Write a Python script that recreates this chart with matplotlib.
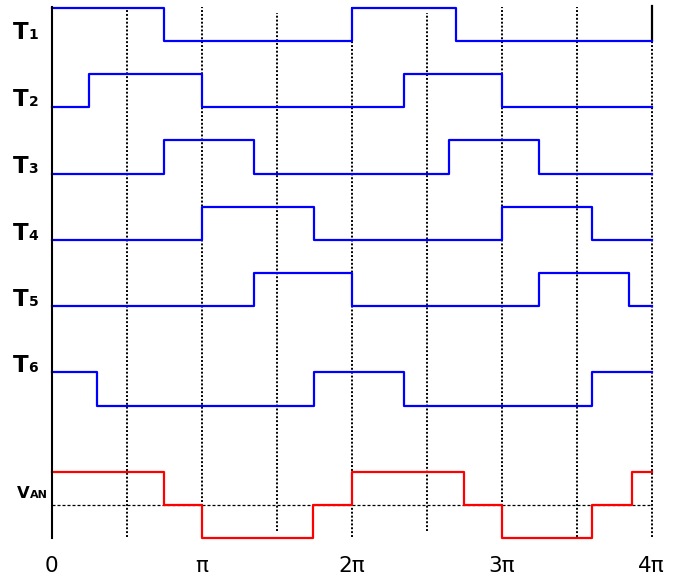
import numpy as np
import matplotlib.pyplot as plt
from matplotlib.transforms import offset_copy

# switching instants (in multiples of pi) and the state held after each one
t1_edges = [0, 0.747, 2.0, 2.696, 4.0]
t1_states = [1, 0, 1, 0]
t2_edges = [0, 0.249, 1.0, 2.349, 3.0, 4.0]
t2_states = [0, 1, 0, 1, 0]
t3_edges = [0, 0.747, 1.351, 2.649, 3.251, 4.0]
t3_states = [0, 1, 0, 1, 0]
t4_edges = [0, 1.0, 1.749, 3.0, 3.604, 4.0]
t4_states = [0, 1, 0, 1, 0]
t5_edges = [0, 1.351, 2.0, 3.251, 3.849, 4.0]
t5_states = [0, 1, 0, 1, 0]
t6_edges = [0, 0.304, 1.749, 2.349, 3.604, 4.0]
t6_states = [1, 0, 1, 0, 1]

van_edges = [0, 0.747, 1.0, 1.744, 2.0, 2.751, 3.0, 3.6, 3.871, 4.0]
van_states = [1, 0, -1, 0, 1, 0, -1, 0, 1]

row_names = ["1", "2", "3", "4", "5", "6"]
tick_vals = [0, 1, 2, 3, 4]
tick_labels = ["0", "π", "2π", "3π", "4π"]

signals = [
    (t1_edges, t1_states),
    (t2_edges, t2_states),
    (t3_edges, t3_states),
    (t4_edges, t4_states),
    (t5_edges, t5_states),
    (t6_edges, t6_states),
]
row_base = [13.93, 11.95, 9.95, 7.95, 5.97, 2.98]
label_y = [14.0, 11.97, 9.97, 7.97, 5.97, 3.98]


def step_xy(edges, states):
    xs = np.repeat(np.asarray(edges, dtype=float), 2)[1:-1] * np.pi
    ys = np.repeat(np.asarray(states, dtype=float), 2)
    return xs, ys


fig = plt.figure(figsize=(6.79, 5.77), dpi=100)
ax = fig.add_axes([0, 0, 1, 1])
ax.set_xlim(-0.3447 * np.pi, 4.182 * np.pi)
ax.set_ylim(-2.162, 15.165)
ax.axis("off")

# dotted guides every half period
for k in range(1, 9):
    x = k * 0.5 * np.pi
    if k in (3, 5):
        y0, y1 = -0.78, 14.77
    else:
        y0, y1 = -0.97, 14.95
    ax.plot([x, x], [y0, y1], color="black", lw=1.4,
            linestyle=(0, (1, 1.0)), zorder=1)
ax.plot([4 * np.pi, 4 * np.pi], [13.95, 14.97], color="black", lw=1.6, zorder=1)

# time axis line on the left
ax.plot([0, 0], [-0.99, 14.95], color="black", lw=1.5, zorder=3)

# zero reference for the phase voltage
ax.plot([0, 4 * np.pi], [0, 0], color="black", lw=0.9,
        linestyle=(0, (2.4, 1.6)), zorder=1)

for (edges, states), base in zip(signals, row_base):
    xs, ys = step_xy(edges, states)
    ax.plot(xs, ys + base, color="#0000ff", lw=1.6, zorder=2)

xs, ys = step_xy(van_edges, van_states)
ax.plot(xs, ys, color="#ff0000", lw=1.6, zorder=2)

# row labels: big T with a smaller digit on the same baseline
for name, y in zip(row_names, label_y):
    ax.text(-0.2615 * np.pi, y, "T", fontsize=16.5, fontweight="bold",
            ha="left", va="baseline")
    tr = offset_copy(ax.transData, fig=fig, x=11.5, y=0, units="points")
    ax.text(-0.2615 * np.pi, y, name, fontsize=10, fontweight="bold",
            ha="left", va="baseline", transform=tr)

ax.text(-0.235 * np.pi, 0.2, "V", fontsize=11.8, fontweight="bold",
        ha="left", va="baseline")
tr = offset_copy(ax.transData, fig=fig, x=9.6, y=0, units="points")
ax.text(-0.235 * np.pi, 0.2, "AN", fontsize=8, fontweight="bold",
        ha="left", va="baseline", transform=tr)

for v, lab in zip(tick_vals, tick_labels):
    ax.text(v * np.pi, -2.0, lab, fontsize=15.5, ha="center", va="baseline")

fig.savefig("out.png", dpi=100)
